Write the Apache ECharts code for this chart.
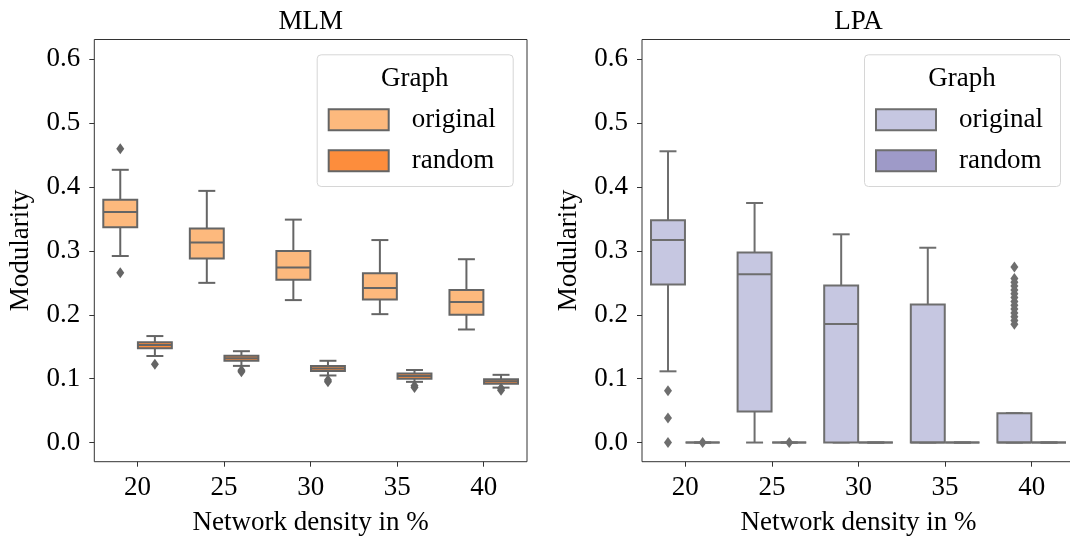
<!DOCTYPE html>
<html>
<head>
<meta charset="utf-8">
<script src="https://cdn.jsdelivr.net/npm/echarts@6/dist/echarts.min.js"></script>
<style>
  html, body { margin: 0; padding: 0; background: #fff; }
  #chart { width: 1070px; height: 537px; }
</style>
</head>
<body>
<div id="chart"></div>
<script>
// Network densities (x categories) and y tick values
const densities = ['20', '25', '30', '35', '40'];
const yTicks = [0.0, 0.1, 0.2, 0.3, 0.4, 0.5, 0.6];

// Box summaries per density: [lower whisker, Q1, median, Q3, upper whisker]
const mlmOriginal = [
  [0.292, 0.337, 0.361, 0.380, 0.427],
  [0.250, 0.288, 0.313, 0.335, 0.394],
  [0.223, 0.255, 0.274, 0.300, 0.349],
  [0.201, 0.224, 0.242, 0.265, 0.317],
  [0.177, 0.200, 0.220, 0.239, 0.287]
];
const mlmRandom = [
  [0.1355, 0.1475, 0.1527, 0.1570, 0.1667],
  [0.120, 0.128, 0.132, 0.136, 0.143],
  [0.105, 0.112, 0.116, 0.120, 0.128],
  [0.095, 0.100, 0.104, 0.108, 0.1136],
  [0.086, 0.092, 0.096, 0.099, 0.106]
];
const lpaOriginal = [
  [0.1115, 0.2475, 0.317, 0.348, 0.456],
  [0.0, 0.0485, 0.2636, 0.2975, 0.375],
  [0.0, 0.0, 0.1855, 0.246, 0.326],
  [0.0, 0.0, 0.0, 0.216, 0.305],
  [0.0, 0.0, 0.0, 0.046, 0.046]
];
const lpaRandom = [
  [0.0, 0.0, 0.0, 0.0, 0.0],
  [0.0, 0.0, 0.0, 0.0, 0.0],
  [0.0, 0.0, 0.0, 0.0, 0.0],
  [0.0, 0.0, 0.0, 0.0, 0.0],
  [0.0, 0.0, 0.0, 0.0, 0.0]
];

// Outliers per density
const mlmOriginalOut = [[0.460, 0.266], [], [], [], []];
const mlmRandomOut = [[0.1225], [0.113, 0.111], [0.098, 0.095], [0.089, 0.086], [0.085, 0.082]];
const lpaOriginalOut = [
  [0.081, 0.0386, 0.0], [], [], [],
  [0.275, 0.257, 0.251, 0.245, 0.239, 0.233, 0.227, 0.221, 0.215, 0.209, 0.203, 0.197, 0.191, 0.185]
];
const lpaRandomOut = [[0.0], [0.0], [], [], []];

const FONT = "'Liberation Serif', 'DejaVu Serif', serif";
const FS = 27;
const INK = '#000';
const SPINE = '#333';

const colors = {
  mlm: { original: '#fdb97d', random: '#fd8d3c', line: '#656565' },
  lpa: { original: '#c6c7e1', random: '#9e9ac8', line: '#6e6e6e' }
};

// Box + whiskers drawn at a dodge offset of +/- 0.2 of the band
function boxItem(side, fill, stroke) {
  return function (params, api) {
    const i = api.value(0);
    const band = api.size([1, 0])[0];
    const cx = api.coord([i, 0])[0] + side * band * 0.2;
    const hw = band * 0.196;
    const capW = hw / 2;
    const y = k => api.coord([i, api.value(k)])[1];
    const lo = y(1), q1 = y(2), med = y(3), q3 = y(4), hi = y(5);
    const ls = { stroke: stroke, lineWidth: 2 };
    return {
      type: 'group',
      children: [
        { type: 'line', shape: { x1: cx, y1: q3, x2: cx, y2: hi }, style: ls },
        { type: 'line', shape: { x1: cx, y1: q1, x2: cx, y2: lo }, style: ls },
        { type: 'line', shape: { x1: cx - capW, y1: hi, x2: cx + capW, y2: hi }, style: ls },
        { type: 'line', shape: { x1: cx - capW, y1: lo, x2: cx + capW, y2: lo }, style: ls },
        { type: 'rect', shape: { x: cx - hw, y: q3, width: 2 * hw, height: q1 - q3 },
          style: { fill: fill, stroke: stroke, lineWidth: 2 } },
        { type: 'line', shape: { x1: cx - hw, y1: med, x2: cx + hw, y2: med }, style: ls }
      ]
    };
  };
}

// Diamond markers for outliers
function outlierItem(side, color) {
  return function (params, api) {
    const i = api.value(0);
    const band = api.size([1, 0])[0];
    const p = api.coord([i, api.value(1)]);
    const cx = p[0] + side * band * 0.2;
    const cy = p[1];
    return {
      type: 'polygon',
      shape: { points: [[cx, cy - 5.5], [cx + 4, cy], [cx, cy + 5.5], [cx - 4, cy]] },
      style: { fill: color }
    };
  };
}

function boxData(summary) {
  return summary.map((s, i) => [i].concat(s));
}
function outData(groups) {
  const out = [];
  groups.forEach((vals, i) => vals.forEach(v => out.push([i, v])));
  return out;
}

function boxSeries(name, gi, side, summary, fill, stroke) {
  return {
    name: name, type: 'custom', xAxisIndex: gi, yAxisIndex: gi,
    renderItem: boxItem(side, fill, stroke),
    itemStyle: { color: fill, borderColor: stroke, borderWidth: 1 },
    encode: { x: 0, y: [1, 2, 3, 4, 5] },
    data: boxData(summary), silent: true, z: 2
  };
}
function outSeries(name, gi, side, groups, color) {
  return {
    name: name, type: 'custom', xAxisIndex: gi, yAxisIndex: gi,
    renderItem: outlierItem(side, color),
    encode: { x: 0, y: 1 },
    data: outData(groups), silent: true, z: 3
  };
}

function xAxis(gi) {
  return {
    type: 'category', gridIndex: gi, data: densities,
    axisLine: { show: false, onZero: false },
    axisTick: { show: true, alignWithLabel: true, length: 5, lineStyle: { color: SPINE, width: 1 } },
    axisLabel: { color: INK, fontFamily: FONT, fontSize: FS, margin: 13 },
    name: 'Network density in %', nameLocation: 'middle', nameGap: 48,
    nameTextStyle: { color: INK, fontFamily: FONT, fontSize: FS },
    splitLine: { show: false }
  };
}
function yAxis(gi) {
  return {
    type: 'value', gridIndex: gi, min: -0.03, max: 0.631,
    axisLine: { show: false, onZero: false },
    axisTick: { show: true, length: 5, customValues: yTicks, lineStyle: { color: SPINE, width: 1 } },
    axisLabel: { color: INK, fontFamily: FONT, fontSize: FS, margin: 14,
                 customValues: yTicks, formatter: v => v.toFixed(1) },
    splitLine: { show: false },
    name: 'Modularity', nameLocation: 'middle', nameGap: 60,
    nameTextStyle: { color: INK, fontFamily: FONT, fontSize: FS }
  };
}

function legend(names, left) {
  return {
    data: names, orient: 'vertical', left: left, top: 106.3, padding: 0,
    itemWidth: 60, itemHeight: 21, itemGap: 14, icon: 'rect', selectedMode: false,
    formatter: n => n.split(' ')[1],
    textStyle: { color: INK, fontFamily: FONT, fontSize: FS, padding: [0, 0, 0, 18] },
    z: 10
  };
}

function legendFrame(x) {
  return [
    { type: 'rect', left: x, top: 54.3, z: 9,
      shape: { width: 196, height: 131.7, r: 4 },
      style: { fill: 'rgba(255,255,255,0.8)', stroke: '#d6d6d6', lineWidth: 1 } },
    { type: 'text', x: x + 98, y: 79, z: 10,
      style: { text: 'Graph', fill: INK, font: FS + 'px ' + FONT, align: 'center', verticalAlign: 'middle' } }
  ];
}

const chart = echarts.init(document.getElementById('chart'), null, { renderer: 'canvas' });
chart.setOption({
  animation: false,
  backgroundColor: '#fff',
  title: [
    { text: 'MLM', left: 310.7, top: 8, textAlign: 'center', padding: 0,
      textStyle: { color: INK, fontFamily: FONT, fontSize: FS, fontWeight: 'normal' } },
    { text: 'LPA', left: 858.5, top: 8, textAlign: 'center', padding: 0,
      textStyle: { color: INK, fontFamily: FONT, fontSize: FS, fontWeight: 'normal' } }
  ],
  grid: [
    { left: 94.3, top: 39.5, width: 432.7, height: 422.2, show: true, outerBoundsMode: 'none',
      borderColor: SPINE, borderWidth: 1, backgroundColor: 'transparent', containLabel: false },
    { left: 642, top: 39.5, width: 433, height: 422.2, show: true, outerBoundsMode: 'none',
      borderColor: SPINE, borderWidth: 1, backgroundColor: 'transparent', containLabel: false }
  ],
  xAxis: [xAxis(0), xAxis(1)],
  yAxis: [yAxis(0), yAxis(1)],
  legend: [
    legend(['MLM original', 'MLM random'], 327.7),
    legend(['LPA original', 'LPA random'], 875)
  ],
  graphic: legendFrame(316.7).concat(legendFrame(864)),
  series: [
    boxSeries('MLM original', 0, -1, mlmOriginal, colors.mlm.original, colors.mlm.line),
    boxSeries('MLM random', 0, 1, mlmRandom, colors.mlm.random, colors.mlm.line),
    outSeries('MLM original outliers', 0, -1, mlmOriginalOut, colors.mlm.line),
    outSeries('MLM random outliers', 0, 1, mlmRandomOut, colors.mlm.line),
    boxSeries('LPA original', 1, -1, lpaOriginal, colors.lpa.original, colors.lpa.line),
    boxSeries('LPA random', 1, 1, lpaRandom, colors.lpa.random, colors.lpa.line),
    outSeries('LPA original outliers', 1, -1, lpaOriginalOut, colors.lpa.line),
    outSeries('LPA random outliers', 1, 1, lpaRandomOut, colors.lpa.line)
  ]
});
</script>
</body>
</html>
